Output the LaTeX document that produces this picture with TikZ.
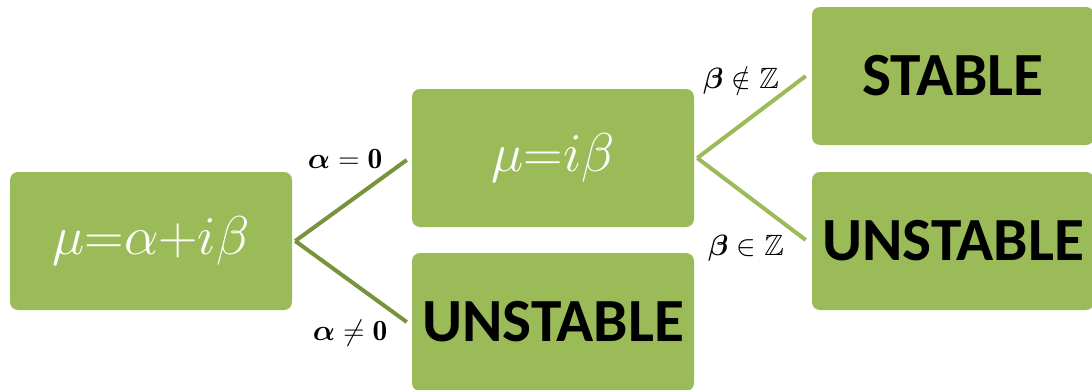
\RequirePackage{fix-cm}
\documentclass[tikz,border=0pt]{standalone}
\usepackage{amsmath,amssymb,bm}
\usepackage{fontspec}
\newfontfamily\boxsans{Carlito}
\definecolor{boxgreen}{HTML}{9BBB59}
\definecolor{linkdark}{HTML}{77933C}
\begin{document}
\begin{tikzpicture}[x=0.75pt,y=-0.75pt,
  box/.style={fill=boxgreen, draw=none, rounded corners=6pt,
    minimum width=211.5pt, minimum height=103.5pt, inner sep=0pt, anchor=center},
  mathtext/.style={text=white, font=\fontsize{41}{45}\selectfont},
  wordtext/.style={text=black, font=\boxsans\bfseries\fontsize{46}{50}\selectfont},
  branch/.style={line width=3pt},
  cond/.style={font=\fontsize{22}{26}\selectfont}]
  \useasboundingbox (0,0) rectangle (1092,389);

  % boxes
  \node[box, mathtext] (root) at (151,241) {$\mu{=}\alpha{+}i\beta$};
  \node[box, mathtext] (imag) at (553,158) {$\mu{=}i\beta$};
  \node[box, wordtext] (unst1) at (553,322) {UNSTABLE};
  \node[box, wordtext] (stab) at (953,76) {STABLE};
  \node[box, wordtext] (unst2) at (953,241) {UNSTABLE};

  % branches from the root
  \coordinate (r0) at ([xshift=2.25pt]root.east);
  \draw[branch, linkdark] (r0) -- ([xshift=-3.75pt,yshift=-1.5pt]imag.west);
  \draw[branch, linkdark] (r0) -- ([xshift=-3.75pt]unst1.west);

  % branches from mu = i beta
  \coordinate (i0) at ([xshift=2.25pt]imag.east);
  \draw[branch, boxgreen] (i0) -- ([xshift=-4.5pt]stab.west);
  \draw[branch, boxgreen] (i0) -- ([xshift=-4.5pt,yshift=0.75pt]unst2.west);

  % conditions
  \node[cond] (c1) at (345,159) {$\bm{\alpha}=\mathbf{0}$};
  \node[cond] (c2) at (350,333) {$\bm{\alpha}\neq\mathbf{0}$};
  \node[cond] (c3) at (741,80) {$\bm{\beta}\notin\mathbb{Z}$};
  \node[cond] (c4) at (746,248) {$\bm{\beta}\in\mathbb{Z}$};
\end{tikzpicture}
\end{document}
